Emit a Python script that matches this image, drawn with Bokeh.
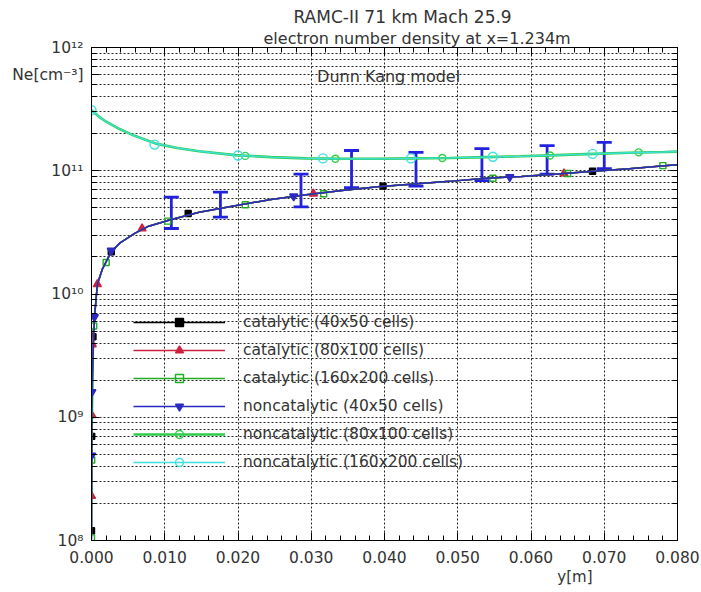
import numpy as np
from bokeh.plotting import figure
from bokeh.models import (Range1d, FixedTicker, LinearAxis, LogAxis, Whisker, ColumnDataSource,
                          Legend, LegendItem, Label, TeeHead, NumeralTickFormatter, Title)
from bokeh.embed import file_html
from bokeh.resources import INLINE

# ---------------- data ----------------
title_lines = ["RAMC-II 71 km Mach 25.9", "electron number density at x=1.234m"]
x_label = "y[m]"
y_label = "Ne[cm\u207b\u00b3]"
model_note = "Dunn Kang model"
series_labels = ["catalytic (40x50 cells)", "catalytic (80x100 cells)", "catalytic (160x200 cells)",
                 "noncatalytic (40x50 cells)", "noncatalytic (80x100 cells)", "noncatalytic (160x200 cells)"]

# shared lower profile (catalytic-like), y[m] vs Ne
low_y = [0.0008, 0.0015, 0.0027, 0.0039, 0.0059, 0.0078, 0.0108, 0.0147, 0.0196, 0.0245, 0.0293, 0.0342,
         0.0391, 0.044, 0.0489, 0.0538, 0.0587, 0.0636, 0.0685, 0.0734, 0.0782, 0.08]
low_ne = [1.2e10, 1.6e10, 2.2e10, 2.6e10, 3.1e10, 3.55e10, 4.0e10, 4.6e10, 5.2e10, 5.85e10, 6.4e10, 6.9e10,
          7.4e10, 7.8e10, 8.2e10, 8.7e10, 9.0e10, 9.4e10, 9.9e10, 1.04e11, 1.1e11, 1.12e11]

# near-wall parts of each lower series
cat40_wall_y = [0.0, 0.00003, 0.0002]
cat40_wall_ne = [1.2e8, 7.0e8, 4.5e9]
cat80_wall_y = [0.0, 0.00005, 0.0001]
cat80_wall_ne = [2.3e8, 1.04e9, 3.9e9]
cat160_wall_y = [0.0, 0.00003, 0.0003]
cat160_wall_ne = [1.05e8, 4.5e8, 5.5e9]
non40_wall_y = [0.0, 0.00002, 0.00005, 0.0004]
non40_wall_ne = [1.0e8, 4.9e8, 1.6e9, 6.5e9]

# marker positions of each lower series
cat40_mk_y = [0.0, 0.00003, 0.0002, 0.0027, 0.0132, 0.0398, 0.0684]
cat40_mk_ne = [1.2e8, 7.0e8, 4.5e9, 2.2e10, 4.5e10, 7.5e10, 9.9e10]
cat80_mk_y = [0.0, 0.00005, 0.0001, 0.0008, 0.0069, 0.0303, 0.0645]
cat80_mk_ne = [2.3e8, 1.04e9, 3.9e9, 1.2e10, 3.4e10, 6.5e10, 9.5e10]
cat160_mk_y = [0.0, 0.00003, 0.0003, 0.002, 0.0104, 0.021, 0.0317, 0.0548, 0.065, 0.078]
cat160_mk_ne = [1.05e8, 4.5e8, 5.5e9, 1.8e10, 3.9e10, 5.3e10, 6.5e10, 8.7e10, 9.5e10, 1.1e11]
non40_mk_y = [0.00002, 0.00005, 0.0004, 0.0027, 0.0276, 0.0571]
non40_mk_ne = [4.9e8, 1.6e9, 6.5e9, 2.25e10, 6.2e10, 8.9e10]

# upper profile (noncatalytic fine meshes)
up_y = [0.0, 0.001, 0.002, 0.0039, 0.0059, 0.0088, 0.0117, 0.0147, 0.0196, 0.0245, 0.0293, 0.0342, 0.0391,
        0.044, 0.0489, 0.0538, 0.0587, 0.0636, 0.0685, 0.0734, 0.0782, 0.08]
up_ne = [3.1e11, 2.75e11, 2.5e11, 2.17e11, 1.92e11, 1.66e11, 1.53e11, 1.44e11, 1.34e11, 1.29e11, 1.26e11,
         1.25e11, 1.25e11, 1.26e11, 1.27e11, 1.29e11, 1.31e11, 1.34e11, 1.37e11, 1.40e11, 1.42e11, 1.43e11]
non80_mk_y = [0.021, 0.0333, 0.0479, 0.0626, 0.0747]
non80_mk_ne = [1.32e11, 1.25e11, 1.27e11, 1.33e11, 1.41e11]
non160_mk_y = [0.0, 0.0086, 0.02, 0.0316, 0.0436, 0.0548, 0.0684]
non160_mk_ne = [3.1e11, 1.63e11, 1.33e11, 1.26e11, 1.26e11, 1.30e11, 1.37e11]

# experimental error bars
exp_y = [0.0109, 0.0176, 0.0286, 0.0355, 0.0443, 0.0533, 0.0622, 0.07]
exp_lo = [3.4e10, 4.2e10, 5.1e10, 7.3e10, 7.5e10, 8.3e10, 9.4e10, 1.04e11]
exp_hi = [6.1e10, 6.7e10, 9.4e10, 1.46e11, 1.41e11, 1.51e11, 1.6e11, 1.7e11]

xtick_vals = [0.0, 0.01, 0.02, 0.03, 0.04, 0.05, 0.06, 0.07, 0.08]
ytick_exps = [8, 9, 10, 11, 12]
y_label_at = 6e11   # height at which the y-axis title sits, beside the axis

# ---------------- figure ----------------
FONT = "DejaVu Sans"
TXT = "#333333"
p = figure(width=701, height=590, x_range=Range1d(0, 0.08), y_range=Range1d(1e8, 1e12),
           y_axis_type="log", output_backend="svg", toolbar_location=None,
           min_border_left=91, min_border_right=24, min_border_top=47, min_border_bottom=50,
           x_axis_location=None, y_axis_location=None)
p.title.text = ""
p.outline_line_color = "black"
p.outline_line_width = 1
p.background_fill_color = "white"
p.border_fill_color = "white"

x_minor = [round(v, 4) for v in np.arange(0, 0.0801, 0.002)]
xticker = FixedTicker(ticks=xtick_vals, minor_ticks=x_minor)
y_major = [10.0 ** e for e in ytick_exps]
y_minor = [m * 10.0 ** e for e in ytick_exps[:-1] for m in range(2, 10)]
yticker = FixedTicker(ticks=y_major, minor_ticks=y_minor)
yticker_left = FixedTicker(ticks=y_major + [y_label_at], minor_ticks=y_minor)

SUP = str.maketrans("0123456789-", "\u2070\u00b9\u00b2\u00b3\u2074\u2075\u2076\u2077\u2078\u2079\u207b")


def style_axis(ax, show_labels, ticks):
    ax.major_tick_in = 8
    ax.major_tick_out = 0
    ax.minor_tick_in = 5
    ax.minor_tick_out = 0
    ax.axis_line_color = "black"
    ax.major_tick_line_color = "black"
    ax.minor_tick_line_color = "black"
    ax.major_label_text_font = FONT
    ax.major_label_text_color = TXT
    ax.major_label_text_font_size = "15.5px"
    if not show_labels:
        ax.major_label_overrides = {float(v): "" for v in ticks}
        ax.major_label_text_font_size = "1px"
        ax.major_label_standoff = 0


xb = LinearAxis(ticker=xticker, formatter=NumeralTickFormatter(format="0.000"))
style_axis(xb, True, xtick_vals)
xb.major_label_standoff = 10
p.add_layout(xb, "below")
xt = LinearAxis(ticker=xticker)
style_axis(xt, False, xtick_vals)
p.add_layout(xt, "above")
yl = LogAxis(ticker=yticker_left)
style_axis(yl, True, y_major)
yl.major_label_standoff = 8
left_labels = {float(10.0 ** e): "10" + str(e).translate(SUP) for e in ytick_exps}
left_labels[float(y_label_at)] = y_label
yl.major_label_overrides = left_labels
p.add_layout(yl, "left")
yr = LogAxis(ticker=yticker)
style_axis(yr, False, y_major)
p.add_layout(yr, "right")

# titles: second line nearest the frame, first line above it
t2 = Title(text=title_lines[1], align="left", offset=172, text_font=FONT, text_font_size="16px",
           text_font_style="normal", text_color=TXT, standoff=0)
p.add_layout(t2, "above")
t1 = Title(text=title_lines[0], align="left", offset=202, text_font=FONT, text_font_size="17px",
           text_font_style="normal", text_color=TXT, standoff=0)
p.add_layout(t1, "above")
tx = Title(text=x_label, align="right", offset=85, text_font=FONT, text_font_size="15px",
           text_font_style="normal", text_color=TXT, standoff=0)
p.add_layout(tx, "below")

p.xgrid.ticker = xticker
p.ygrid.ticker = yticker
for g in (p.xgrid, p.ygrid):
    g.grid_line_color = "black"
    g.grid_line_dash = "2 2"
    g.grid_line_width = 1
    g.grid_line_alpha = 0.85
p.ygrid.minor_grid_line_color = "black"
p.ygrid.minor_grid_line_dash = "2 2"
p.ygrid.minor_grid_line_alpha = 0.85

# ---------------- series ----------------
def join_line(wy, wne):
    last = wy[-1]
    ys = list(wy) + [v for v in low_y if v > last]
    ns = list(wne) + [n for v, n in zip(low_y, low_ne) if v > last]
    return ys, ns

colors = ["#000000", "#d0203c", "#22aa22", "#2a2ac0", "#2ecc48", "#3ee0e0"]
items = []

specs = [
    (join_line(cat40_wall_y, cat40_wall_ne), (cat40_mk_y, cat40_mk_ne), "square", 6, True, 1.5),
    (join_line(cat80_wall_y, cat80_wall_ne), (cat80_mk_y, cat80_mk_ne), "triangle", 8, True, 1.5),
    (join_line(cat160_wall_y, cat160_wall_ne), (cat160_mk_y, cat160_mk_ne), "square", 6, False, 1.5),
    (join_line(non40_wall_y, non40_wall_ne), (non40_mk_y, non40_mk_ne), "inverted_triangle", 8, True, 1.5),
    ((up_y, up_ne), (non80_mk_y, non80_mk_ne), "circle", 7, False, 2.6),
    ((up_y, up_ne), (non160_mk_y, non160_mk_ne), "circle", 9, False, 1.3),
]

for i, ((ly, ln), (my, mn), mk, sz, filled, lw) in enumerate(specs):
    c = colors[i]
    lr = p.line(ly, ln, line_color=c, line_width=lw)
    sr = p.scatter(my, mn, marker=mk, size=sz, line_color=c, line_width=1.4,
                   fill_color=c if filled else None)
    items.append(LegendItem(label=series_labels[i], renderers=[lr, sr]))

src = ColumnDataSource(dict(x=exp_y, lo=exp_lo, hi=exp_hi))
wh = Whisker(source=src, base="x", lower="lo", upper="hi", dimension="height",
             line_color="#2222dd", line_width=2.8,
             upper_head=TeeHead(size=15, line_color="#2222dd", line_width=2.8),
             lower_head=TeeHead(size=15, line_color="#2222dd", line_width=2.8))
p.add_layout(wh)

legend = Legend(items=items, location=(42, 68), glyph_width=92, glyph_height=20, label_height=20,
                spacing=8, label_standoff=18, padding=0, margin=0,
                background_fill_alpha=0, border_line_alpha=0,
                label_text_font=FONT, label_text_font_size="15.5px", label_text_color=TXT)
p.add_layout(legend)

p.add_layout(Label(x=0.0308, y=5.8e11, text=model_note, text_font=FONT, text_font_size="16px",
                   text_color=TXT, text_baseline="middle"))

open("out.html", "w").write(file_html(p, INLINE))
